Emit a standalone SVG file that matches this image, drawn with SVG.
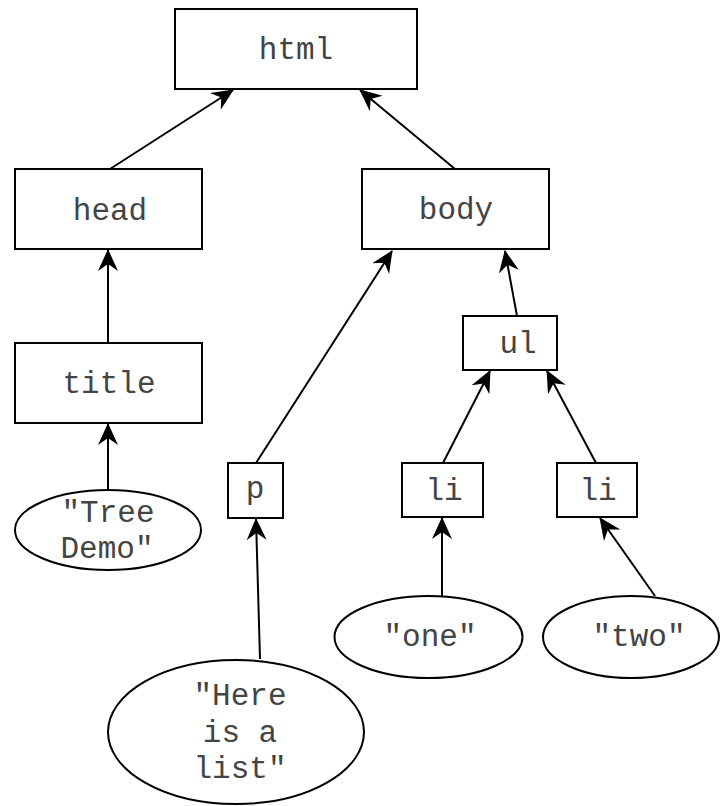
<svg xmlns="http://www.w3.org/2000/svg" width="720" height="806" viewBox="0 0 720 806">
<style>
.box{fill:#fff;stroke:#000;stroke-width:2}
.txt{font-family:"Liberation Mono","Courier New",monospace;font-size:31px;fill:#444;text-anchor:middle}
.edge{stroke:#000;stroke-width:2;fill:none;marker-end:url(#arr)}
</style>
<defs>
<marker id="arr" viewBox="0 0 22 22" refX="21" refY="11" markerWidth="22" markerHeight="22" markerUnits="userSpaceOnUse" orient="auto">
<path d="M0,1 L22,11 L0,21 L7,11 Z" fill="#000"/>
</marker>
</defs>
<rect width="720" height="806" fill="#fff"/>
<g id="connectors">
<line class="edge" x1="110" y1="169" x2="233" y2="90"/>
<line class="edge" x1="455" y1="169" x2="360" y2="90"/>
<line class="edge" x1="108" y1="355" x2="108" y2="250"/>
<line class="edge" x1="108" y1="490" x2="108" y2="424"/>
<line class="edge" x1="256" y1="463" x2="392" y2="251"/>
<line class="edge" x1="517" y1="316" x2="505" y2="251"/>
<line class="edge" x1="443" y1="463" x2="490" y2="371"/>
<line class="edge" x1="596" y1="463" x2="547" y2="371"/>
<line class="edge" x1="260" y1="659" x2="256" y2="519"/>
<line class="edge" x1="442" y1="596" x2="442" y2="518"/>
<line class="edge" x1="655" y1="596" x2="600" y2="518"/>
</g>
<g id="html"><rect class="box" x="175" y="9" width="242" height="80"/><text class="txt" x="296" y="59">html</text></g>
<g id="head"><rect class="box" x="15" y="169" width="187" height="80"/><text class="txt" x="110" y="220">head</text></g>
<g id="body"><rect class="box" x="362" y="169" width="187" height="80"/><text class="txt" x="456" y="219">body</text></g>
<g id="title"><rect class="box" x="15" y="343" width="187" height="80"/><text class="txt" x="109" y="393">title</text></g>
<g id="tree-demo"><ellipse class="box" cx="108" cy="530" rx="93" ry="40"/><text class="txt" x="108" y="522">"Tree</text><text class="txt" x="107" y="558">Demo"</text></g>
<g id="p"><rect class="box" x="228" y="463" width="55" height="55"/><text class="txt" x="255" y="498">p</text></g>
<g id="ul"><rect class="box" x="463" y="316" width="94" height="54"/><text class="txt" x="518" y="353">ul</text></g>
<g id="li1"><rect class="box" x="402" y="463" width="81" height="54"/><text class="txt" x="444" y="500">li</text></g>
<g id="li2"><rect class="box" x="557" y="463" width="80" height="54"/><text class="txt" x="598" y="500">li</text></g>
<g id="here-is-a-list"><ellipse class="box" cx="236" cy="732" rx="128" ry="72"/><text class="txt" x="240" y="705">"Here</text><text class="txt" x="240" y="742">is a</text><text class="txt" x="240" y="778">list"</text></g>
<g id="one"><ellipse class="box" cx="428.5" cy="637" rx="94" ry="41"/><text class="txt" x="430" y="646">"one"</text></g>
<g id="two"><ellipse class="box" cx="631" cy="637" rx="88" ry="41"/><text class="txt" x="639" y="646">"two"</text></g>
</svg>
